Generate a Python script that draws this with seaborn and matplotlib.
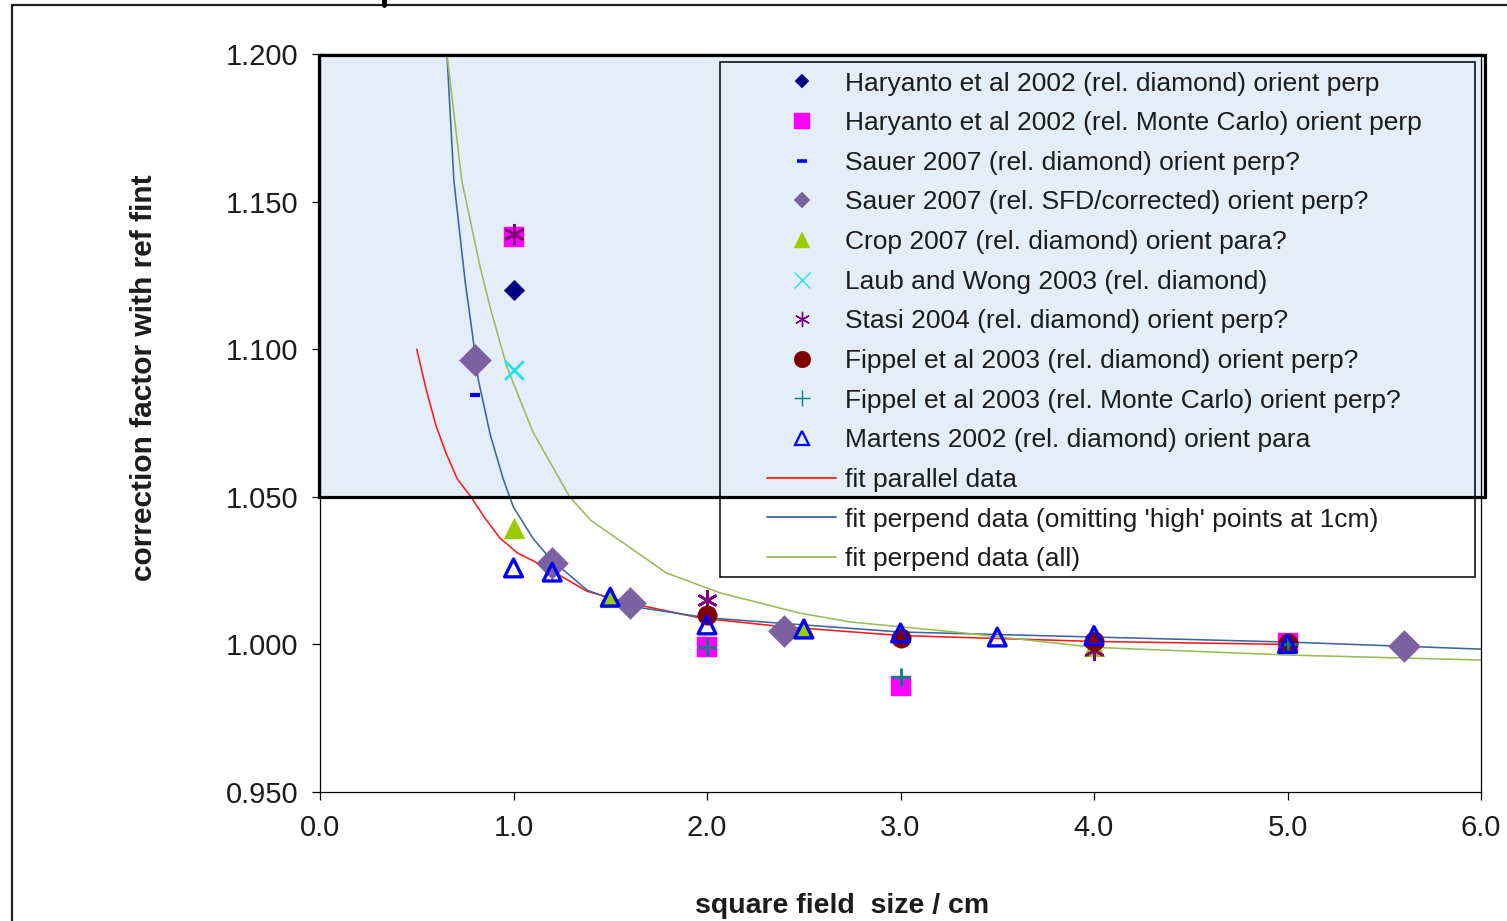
import matplotlib
matplotlib.use("Agg")
import matplotlib.pyplot as plt
import seaborn as sns
from matplotlib.lines import Line2D
from matplotlib.patches import Rectangle

# ---- measured correction factors vs square field size (cm) ----
haryanto_diam_x = [1.0]
haryanto_diam_y = [1.120]

haryanto_mc_x = [1.0, 2.0, 3.0, 5.0]
haryanto_mc_y = [1.138, 0.999, 0.986, 1.0005]

sauer_diam_x = [0.8, 1.2, 1.6, 2.4]
sauer_diam_y = [1.0845, 1.027, 1.012, 1.002]

sauer_sfd_x = [0.8, 1.2, 1.6, 2.4, 5.6]
sauer_sfd_y = [1.0963, 1.0276, 1.014, 1.0045, 0.9995]

crop_x = [1.0, 1.5, 2.5, 4.0]
crop_y = [1.0394, 1.016, 1.0055, 0.9995]

laub_x = [1.0]
laub_y = [1.093]

stasi_x = [1.0, 2.0, 4.0]
stasi_y = [1.139, 1.015, 0.998]

fippel_diam_x = [2.0, 3.0, 4.0, 5.0]
fippel_diam_y = [1.010, 1.002, 1.001, 1.0005]

fippel_mc_x = [2.0, 3.0, 5.0]
fippel_mc_y = [0.999, 0.989, 1.000]

martens_x = [1.0, 1.2, 1.5, 2.0, 2.5, 3.0, 3.5, 4.0, 5.0]
martens_y = [1.0259, 1.0245, 1.016, 1.0066, 1.0052, 1.0039, 1.0025, 1.003, 1.0003]

# ---- fitted curves ----
fit_par_x = [0.50, 0.55, 0.60, 0.65, 0.71, 0.78, 0.85, 0.93, 1.02, 1.17, 1.38,
             1.60, 1.96, 2.39, 3.0, 4.0, 5.0]
fit_par_y = [1.100, 1.086, 1.074, 1.065, 1.056, 1.050, 1.043, 1.036, 1.031, 1.026,
             1.018, 1.014, 1.009, 1.006, 1.003, 1.001, 1.000]

fit_perp_omit_x = [0.656, 0.692, 0.75, 0.79, 0.817, 0.88, 0.947, 0.98, 1.0, 1.10,
                   1.19, 1.38, 1.6, 2.0, 3.0, 4.0, 5.0, 6.0]
fit_perp_omit_y = [1.200, 1.157, 1.123, 1.104, 1.090, 1.071, 1.056, 1.050, 1.0465,
                   1.036, 1.029, 1.0184, 1.013, 1.009, 1.0042, 1.0025, 1.0008, 0.9984]

fit_perp_all_x = [0.656, 0.733, 0.827, 0.88, 0.966, 1.10, 1.29, 1.40, 1.62, 1.79,
                  2.07, 2.48, 2.74, 3.28, 4.0, 5.0, 6.0]
fit_perp_all_y = [1.200, 1.157, 1.128, 1.114, 1.094, 1.072, 1.050, 1.042, 1.032,
                  1.0242, 1.0174, 1.0106, 1.0076, 1.0042, 0.999, 0.9964, 0.9947]

x_ticks = [0.0, 1.0, 2.0, 3.0, 4.0, 5.0, 6.0]
y_ticks = [0.950, 1.000, 1.050, 1.100, 1.150, 1.200]
band_lo, band_hi = 1.050, 1.200

labels = [
    "Haryanto et al 2002 (rel. diamond) orient perp",
    "Haryanto et al 2002 (rel. Monte Carlo) orient perp",
    "Sauer 2007 (rel. diamond) orient perp?",
    "Sauer 2007 (rel. SFD/corrected) orient perp?",
    "Crop 2007 (rel. diamond) orient para?",
    "Laub and Wong 2003 (rel. diamond)",
    "Stasi 2004 (rel. diamond) orient perp?",
    "Fippel et al 2003 (rel. diamond) orient perp?",
    "Fippel et al 2003 (rel. Monte Carlo) orient perp?",
    "Martens 2002 (rel. diamond) orient para",
    "fit parallel data",
    "fit perpend data (omitting 'high' points at 1cm)",
    "fit perpend data (all)",
]

TXT = "#1c1c1c"
ASTER = (6, 2, 0)

# marker, plot size (pt), legend size (pt), colour, fill kind, plot lw, legend lw
series = [
    (haryanto_diam_x, haryanto_diam_y, "D", 10.5, 7.5, "#000080", True, 0.0, 0.0),
    (haryanto_mc_x, haryanto_mc_y, "s", 15.0, 12.2, "#FF00FF", True, 0.0, 0.0),
    (sauer_diam_x, sauer_diam_y, "_", 7.5, 6.5, "#0000FF", False, 3.0, 2.6),
    (sauer_sfd_x, sauer_sfd_y, "D", 16.3, 8.6, "#7B619F", True, 0.0, 0.0),
    (crop_x, crop_y, "^", 15.0, 12.0, "#99CC00", True, 0.0, 0.0),
    (laub_x, laub_y, "x", 13.5, 12.0, "#22E2EC", False, 2.0, 1.0),
    (stasi_x, stasi_y, ASTER, 13.5, 11.0, "#800080", False, 1.9, 1.0),
    (fippel_diam_x, fippel_diam_y, "o", 14.0, 12.0, "#800000", True, 0.0, 0.0),
    (fippel_mc_x, fippel_mc_y, "+", 13.0, 11.0, "#008080", False, 2.0, 1.0),
    (martens_x, martens_y, "^", 12.8, 10.0, "#0000FF", "open", 2.4, 1.6),
]

fits = [
    (fit_par_x, fit_par_y, "#FF1A1A"),
    (fit_perp_omit_x, fit_perp_omit_y, "#40649E"),
    (fit_perp_all_x, fit_perp_all_y, "#9BBB59"),
]

sns.set_theme(style="white")
plt.rcParams["font.family"] = ["Liberation Sans", "DejaVu Sans"]

fig = plt.figure(figsize=(15.07, 9.21), dpi=100)
fig.patch.set_facecolor("white")
ax = fig.add_axes([320 / 1507, 129 / 921, 1161 / 1507, 738 / 921])
ax.set_facecolor("white")

# shaded band with a heavy outline
ax.add_patch(Rectangle((-0.003, band_lo), 6.024, band_hi - band_lo,
                       facecolor="#E4EEF8", edgecolor="none", zorder=0.5,
                       clip_on=False))
ax.add_patch(Rectangle((-0.003, band_lo), 6.024, band_hi - band_lo - 0.0003,
                       facecolor="none", edgecolor="black", lw=2.3, zorder=6,
                       clip_on=False))

for fx, fy, col in fits:
    sns.lineplot(x=fx, y=fy, ax=ax, color=col, lw=1.15, sort=False,
                 estimator=None, legend=False, zorder=2)

for i, (sx, sy, m, ms, _, col, filled, lw, _) in enumerate(series):
    kw = dict(x=sx, y=sy, ax=ax, marker=m, legend=False, zorder=3 + i * 0.1)
    if filled == "open":
        sns.scatterplot(**kw, s=ms ** 2, color=col, facecolor="none",
                        edgecolor=col, linewidth=lw)
    elif filled:
        sns.scatterplot(**kw, s=ms ** 2, color=col, edgecolor=col,
                        linewidth=0.3)
    else:
        sns.scatterplot(**kw, s=ms ** 2, color=col, linewidth=lw)

ax.set_xlim(0, 6)
ax.set_ylim(0.95, 1.2)
ax.set_xticks(x_ticks)
ax.set_xticklabels([f"{v:.1f}" for v in x_ticks])
ax.set_yticks(y_ticks)
ax.set_yticklabels([f"{v:.3f}" for v in y_ticks])
ax.tick_params(axis="both", direction="out", length=5.8, width=0.9,
               color="black", labelsize=21, labelcolor=TXT, pad=10,
               left=True, bottom=True)
for sp in ax.spines.values():
    sp.set_visible(True)
    sp.set_color("black")
    sp.set_linewidth(0.9)

ax.set_xlabel("square field  size / cm", fontsize=20.5, fontweight="bold",
              color=TXT)
ax.xaxis.set_label_coords(0.4496, -0.137)
ax.set_ylabel("correction factor with ref fint", fontsize=21.5,
              fontweight="bold", color=TXT)
ax.yaxis.set_label_coords(-0.1395, 0.561)

# legend handles
handles = []
for (_, _, m, _, lms, col, filled, _, llw) in series:
    if filled == "open":
        h = Line2D([], [], ls="none", marker=m, ms=lms, mfc="none", mec=col,
                   mew=llw)
    elif filled:
        h = Line2D([], [], ls="none", marker=m, ms=lms, mfc=col, mec=col,
                   mew=0.3)
    else:
        h = Line2D([], [], ls="none", marker=m, ms=lms, color=col, mew=llw)
    handles.append(h)
for _, _, col in fits:
    handles.append(Line2D([], [], color=col, lw=1.3))

leg = ax.legend(handles, labels, loc="upper left",
                bbox_to_anchor=((767 - 320) / 1161, (792 - 71.5) / 738),
                frameon=False, fontsize=19, handlelength=2.62,
                handletextpad=0.34, labelspacing=0.593, borderpad=0,
                borderaxespad=0, numpoints=1)
for t in leg.get_texts():
    t.set_color(TXT)
leg.set_zorder(7)

# legend frame
ax.add_patch(Rectangle(((720 - 320) / 1161, (792 - 577) / 738),
                       (1475 - 720) / 1161, (577 - 62) / 738,
                       transform=ax.transAxes, facecolor="none",
                       edgecolor="black", lw=1.1, zorder=6.5, clip_on=False))

# outer chart border
fig.add_artist(Line2D([11.5 / 1507, 11.5 / 1507], [0, (921 - 5) / 921],
                      transform=fig.transFigure, color="#222222", lw=1.6))
fig.add_artist(Line2D([11.5 / 1507, 1.0], [(921 - 5) / 921, (921 - 5) / 921],
                      transform=fig.transFigure, color="#222222", lw=1.6))
fig.add_artist(Line2D([383.5 / 1507, 383.5 / 1507], [(921 - 5) / 921, 1.0],
                      transform=fig.transFigure, color="black", lw=3.5))

fig.savefig("out.png", dpi=100, facecolor="white")
